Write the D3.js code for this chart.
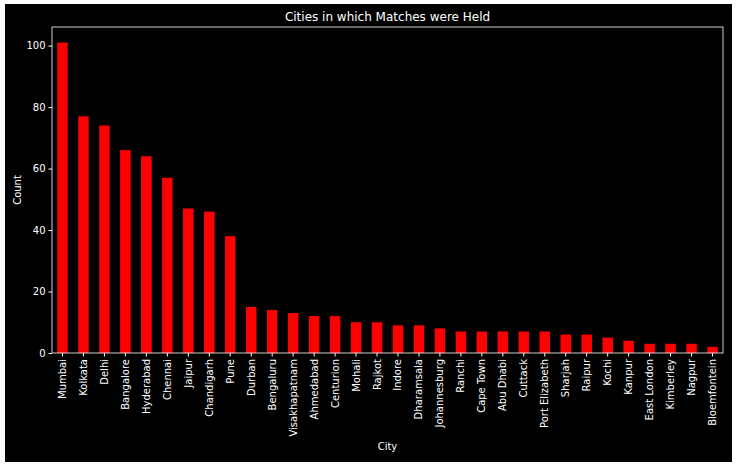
<!DOCTYPE html>
<html lang="en">
<head>
<meta charset="UTF-8">
<script src="https://d3js.org/d3.v7.min.js"></script>
<style>
  body { margin: 0; background: white; }
  text { font-family: "DejaVu Sans", sans-serif; }
</style>
</head>
<body>
<div id="chart"></div>
<script>
    const cities = ["Mumbai", "Kolkata", "Delhi", "Bangalore", "Hyderabad", "Chennai", "Jaipur", "Chandigarh", "Pune",
        "Durban", "Bengaluru", "Visakhapatnam", "Ahmedabad", "Centurion", "Mohali", "Rajkot", "Indore", "Dharamsala",
        "Johannesburg", "Ranchi", "Cape Town", "Abu Dhabi", "Cuttack", "Port Elizabeth", "Sharjah", "Raipur", "Kochi",
        "Kanpur", "East London", "Kimberley", "Nagpur", "Bloemfontein"];
    const counts = [101, 77, 74, 66, 64, 57, 47, 46, 38, 15, 14, 13, 12, 12, 10, 10, 9, 9, 8, 7, 7, 7, 7, 7, 6, 6, 5, 4, 3, 3, 3, 2];
    const yTicks = [0, 20, 40, 60, 80, 100];

    const width = 737, height = 467;
    const plot = {left: 52, right: 723, top: 27, bottom: 353};

    const svg = d3.select("#chart").append("svg")
        .attr("width", width)
        .attr("height", height);

    // figure background
    svg.append("rect")
        .attr("x", 5).attr("y", 4)
        .attr("width", 727).attr("height", 458)
        .attr("fill", "black");

    const x = d3.scaleBand()
        .domain(cities)
        .range([plot.left, plot.right])
        .paddingInner(0.5)
        .paddingOuter(0.25);

    const y = d3.scaleLinear()
        .domain([0, d3.max(counts) * 1.05])
        .range([plot.bottom, plot.top]);

    svg.selectAll("rect.bar")
        .data(cities)
        .enter()
        .append("rect")
        .attr("class", "bar")
        .attr("x", d => x(d))
        .attr("width", x.bandwidth())
        .attr("y", (d, i) => y(counts[i]))
        .attr("height", (d, i) => y(0) - y(counts[i]))
        .attr("fill", "red");

    const xAxis = svg.append("g")
        .attr("transform", `translate(0,${plot.bottom})`)
        .call(d3.axisBottom(x).tickSizeOuter(0).tickSize(3.5));
    xAxis.selectAll("text")
        .attr("transform", "rotate(-90)")
        .attr("text-anchor", "end")
        .attr("x", -6)
        .attr("y", 0)
        .attr("dy", "0.35em");

    const yAxis = svg.append("g")
        .attr("transform", `translate(${plot.left},0)`)
        .call(d3.axisLeft(y).tickValues(yTicks).tickSizeOuter(0).tickSize(3.5));

    [xAxis, yAxis].forEach(g => {
        g.selectAll("text").attr("fill", "white").attr("font-size", 10).style("font-family", "DejaVu Sans");
        g.selectAll("line").attr("stroke", "white");
        g.select(".domain").remove();
    });

    // spines
    svg.append("rect")
        .attr("x", plot.left).attr("y", plot.top)
        .attr("width", plot.right - plot.left).attr("height", plot.bottom - plot.top)
        .attr("fill", "none").attr("stroke", "white").attr("stroke-width", 0.8);

    svg.append("text")
        .attr("x", (plot.left + plot.right) / 2).attr("y", 21)
        .attr("text-anchor", "middle").attr("fill", "white").attr("font-size", 12)
        .text("Cities in which Matches were Held");

    svg.append("text")
        .attr("x", (plot.left + plot.right) / 2).attr("y", 450)
        .attr("text-anchor", "middle").attr("fill", "white").attr("font-size", 10)
        .text("City");

    svg.append("text")
        .attr("transform", `translate(21,${(plot.top + plot.bottom) / 2}) rotate(-90)`)
        .attr("text-anchor", "middle").attr("fill", "white").attr("font-size", 10)
        .text("Count");
</script>
</body>
</html>
